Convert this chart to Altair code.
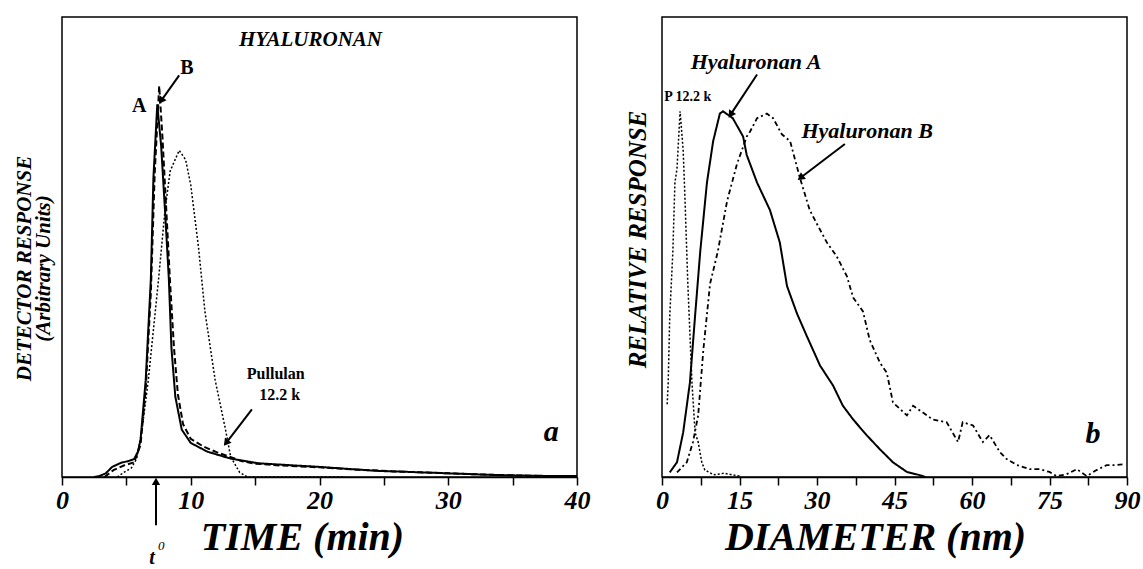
import math
import altair as alt
import pandas as pd

FONT = "Liberation Serif"

# ---------------- Panel a : elution profiles ----------------
a_A_t = [2.5, 2.9, 3.4, 3.9, 4.6, 5.2, 5.6, 5.9, 6.1, 6.5, 6.9, 7.1, 7.4, 7.7, 8.0, 8.3, 8.5, 8.8, 9.3,
         10.0, 11.3, 13.1, 15.2, 17.5, 20.0, 22.0, 24.7, 27.0, 30.0, 32.0, 33.7, 36.0, 38.4, 40.0]
a_A_h = [0.0, 0.2, 0.8, 2.2, 3.1, 3.5, 3.9, 5.5, 8.1, 21, 43, 65, 81, 72, 58, 43, 28, 17.5, 10.3,
         7.4, 5.5, 4.0, 3.0, 2.6, 2.2, 1.8, 1.3, 1.1, 0.8, 0.6, 0.45, 0.3, 0.2, 0.2]

a_B_t = [3.3, 4.0, 4.8, 5.6, 6.1, 6.5, 6.9, 7.2, 7.55, 7.8, 8.1, 8.4, 8.7, 9.0, 9.4, 10.0, 11.0, 12.0,
         13.0, 14.0, 15.0, 17.0, 20.0, 23.0, 26.0, 30.0, 34.0, 38.0, 40.0]
a_B_h = [0.0, 1.5, 2.5, 3.2, 7, 19, 40, 66, 85, 74, 58, 42, 28, 18, 11.5, 8.3, 6.6, 5.4,
         4.4, 3.4, 2.9, 2.5, 2.1, 1.6, 1.2, 0.8, 0.4, 0.2, 0.15]

a_P_t = [4.3, 4.8, 5.4, 5.8, 6.2, 6.7, 7.5, 8.0, 8.4, 9.1, 9.6, 10.0, 10.6, 11.1, 11.9, 12.7, 13.1,
         13.8, 14.4, 22.0]
a_P_h = [0.0, 1.0, 2.0, 4.0, 10, 21, 43, 58, 66.5, 71, 69, 63.5, 50, 36, 21, 10.3, 4.4,
         1.0, 0.0, 0.0]

# ---------------- Panel b : size distributions ----------------
b_P_d = [1.0, 1.2, 1.5, 2.1, 2.5, 2.9, 3.5, 4.1, 4.4, 5.0, 5.8, 6.4, 7.0, 7.7, 8.3, 10.0, 12.0, 15.0]
b_P_h = [15.8, 20.5, 35, 49, 64, 67, 79.5, 71, 62, 42, 20.5, 9.7, 7.6, 3.2, 1.5, 0.5, 0.8, 0.2]

b_A_d = [1.5, 2.9, 4.1, 5.4, 6.4, 7.4, 8.7, 9.9, 11.2, 11.8, 13.7, 15.7, 16.4, 18.4, 20.9, 22.8,
         24.2, 26.1, 28.0, 30.6, 33.1, 35.0, 37.0, 39.6, 42.2, 44.7, 47.4, 49.9, 51.0]
b_A_h = [1.0, 3.2, 9.7, 20.5, 35, 49, 64, 73, 79, 79.5, 78, 74, 70, 64, 58, 51,
         41.5, 35.6, 30.7, 24.2, 19.9, 15.5, 12.5, 9.1, 6.0, 3.2, 1.1, 0.4, 0.0]

b_B_d = [2.9, 4.8, 6.0, 7.0, 8.0, 9.3, 10.8, 12.6, 14.5, 16.4, 17.0, 18.4, 20.3, 21.5, 23.2, 24.8,
         26.7, 28.6, 30.0, 31.9, 33.8, 35.8, 37.0, 38.9, 40.2, 42.2, 43.5, 44.7, 47.4, 48.6, 50.5,
         52.4, 55.1, 57.3, 58.2, 60.2, 62.1, 63.4, 65.4, 66.7, 68.7, 71.2, 73.1, 75.0, 76.4, 78.3,
         80.3, 82.2, 84.1, 86.1, 88.0, 89.6]
b_B_h = [1.0, 3.2, 7.6, 13.4, 27.6, 42, 49, 60, 68, 74, 75, 78, 79, 78, 74.5, 73,
         65, 58, 55, 51, 48, 43.6, 39, 36, 29.8, 24.8, 22.7, 16.2, 13.4, 15.5, 14,
         12.5, 11.9, 7.6, 11.9, 11.2, 7.6, 9.1, 5.4, 3.9, 2.6, 1.7, 1.7, 1.1, 0.2, 0.6,
         1.7, 0.2, 1.5, 2.6, 2.6, 2.8]

# ---------------- Annotations ----------------
a_texts = ["HYALURONAN", "A", "B", "Pullulan", "12.2 k", "a", "t"]
a_text_x = [19.3, 6.0, 9.7, 16.6, 16.9, 38.0, 7.0]
a_text_y = [95.0, 80.7, 89.0, 22.3, 17.9, 9.8, -17.5]
a_text_size = [21, 20, 20, 16, 16, 30, 20]
a_text_style = ["italic", "normal", "normal", "normal", "normal", "italic", "italic"]

a_sup = ["0"]
a_sup_x = [7.7]
a_sup_y = [-15.0]

a_arrows_x1 = [9.1, 14.75, 7.3]
a_arrows_y1 = [87.3, 14.7, -10.5]
a_arrows_x2 = [7.75, 12.8, 7.3]
a_arrows_y2 = [82.0, 7.6, -1.2]

b_texts = ["Hyaluronan A", "Hyaluronan B", "P 12.2 k", "b"]
b_text_x = [18.2, 39.7, 5.0, 83.4]
b_text_y = [90.3, 75.3, 82.7, 9.3]
b_text_size = [22, 22, 14, 30]
b_text_style = ["italic", "italic", "normal", "italic"]

b_arrows_x1 = [18.4, 35.4]
b_arrows_y1 = [87.5, 72.4]
b_arrows_x2 = [13.4, 27.0]
b_arrows_y2 = [79.0, 65.2]

A_W, A_H = 515, 460
B_W, B_H = 465, 460


def series_df(xs, ys, name):
    d = pd.DataFrame({"x": xs, "y": ys, "s": name})
    d["idx"] = range(len(d))
    return d


def arrows_df(x1, y1, x2, y2, xmax, w, h):
    rows = []
    for p, q, r, s in zip(x1, y1, x2, y2):
        dx = (r - p) * w / xmax
        dy = -(s - q) * h / 100.0
        ang = math.degrees(math.atan2(dx, -dy)) % 360
        rows.append({"x": p, "y": q, "x2": r, "y2": s, "ang": ang})
    return pd.DataFrame(rows)


def panel(lines, texts_df, sup_df, arr_df, xmax, w, h, xtitle, ytitle, tickstep, labelstep,
          ytitle_size, ytitle_pad, title_x, title_y):
    xs = alt.Scale(domain=[0, xmax], nice=False, zero=False)
    ys = alt.Scale(domain=[0, 100], nice=False)
    vals = []
    v = 0.0
    while v <= xmax + 1e-9:
        vals.append(round(v, 2))
        v += tickstep
    xaxis = alt.Axis(values=vals, title=xtitle, grid=False,
                     labelExpr=f"datum.value % {labelstep} == 0 ? datum.label : ''",
                     tickSize=8, tickWidth=1.5, tickColor="black",
                     domainColor="black", domainWidth=1.5,
                     labelFont=FONT, labelFontSize=26, labelFontWeight="bold",
                     labelFontStyle="italic", labelColor="black", labelPadding=2,
                     labelFlush=False,
                     titleFont=FONT, titleFontSize=40, titleFontWeight="bold",
                     titleFontStyle="italic", titleColor="black", titlePadding=4,
                     titleX=title_x)
    yaxis = alt.Axis(title=ytitle, ticks=False, labels=False, domain=False, grid=False,
                     titleFont=FONT, titleFontSize=ytitle_size, titleFontWeight="bold",
                     titleFontStyle="italic", titleColor="black", titlePadding=ytitle_pad,
                     titleLineHeight=19, titleY=title_y)

    def X(f):
        return alt.X(f, scale=xs, axis=xaxis)

    def Y(f):
        return alt.Y(f, scale=ys, axis=yaxis)

    layers = []
    for df, dash, sw in lines:
        mk = alt.Chart(df).mark_line(color="black", strokeWidth=sw, strokeDash=dash,
                                     interpolate="linear")
        layers.append(mk.encode(x=X("x:Q"), y=Y("y:Q"), order="idx:Q"))
    for style in ["italic", "normal"]:
        sub = texts_df[texts_df.st == style]
        if len(sub):
            layers.append(alt.Chart(sub).mark_text(
                font=FONT, fontWeight="bold", fontStyle=style, color="black",
                align="center", baseline="middle").encode(
                x=X("x:Q"), y=Y("y:Q"), text="t:N",
                size=alt.Size("sz:Q", scale=None, legend=None)))
    if sup_df is not None:
        layers.append(alt.Chart(sup_df).mark_text(
            font=FONT, fontStyle="italic", fontSize=13, color="black").encode(
            x=X("x:Q"), y=Y("y:Q"), text="t:N"))
    layers.append(alt.Chart(arr_df).mark_rule(color="black", strokeWidth=2).encode(
        x=X("x:Q"), y=Y("y:Q"), x2="x2:Q", y2="y2:Q"))
    layers.append(alt.Chart(arr_df).mark_point(shape="triangle", filled=True, color="black",
                                               size=70, opacity=1).encode(
        x=X("x2:Q"), y=Y("y2:Q"),
        angle=alt.Angle("ang:Q", scale=None)))
    return alt.layer(*layers).properties(width=w, height=h)


a_text_df = pd.DataFrame({"t": a_texts, "x": a_text_x, "y": a_text_y,
                          "sz": a_text_size, "st": a_text_style})
b_text_df = pd.DataFrame({"t": b_texts, "x": b_text_x, "y": b_text_y,
                          "sz": b_text_size, "st": b_text_style})
a_sup_df = pd.DataFrame({"t": a_sup, "x": a_sup_x, "y": a_sup_y})

left = panel(
    [(series_df(a_P_t, a_P_h, "P"), [2, 2], 1.5),
     (series_df(a_B_t, a_B_h, "B"), [6, 3], 2),
     (series_df(a_A_t, a_A_h, "A"), [1, 0], 2)],
    a_text_df, a_sup_df,
    arrows_df(a_arrows_x1, a_arrows_y1, a_arrows_x2, a_arrows_y2, 40, A_W, A_H),
    40, A_W, A_H, "TIME (min)", ["DETECTOR RESPONSE", "(Arbitrary Units)"], 5, 10,
    21, 9, 240, 251)

right = panel(
    [(series_df(b_P_d, b_P_h, "P"), [2, 2], 1.5),
     (series_df(b_B_d, b_B_h, "B"), [5, 3, 2, 3], 1.8),
     (series_df(b_A_d, b_A_h, "A"), [1, 0], 2)],
    b_text_df, None,
    arrows_df(b_arrows_x1, b_arrows_y1, b_arrows_x2, b_arrows_y2, 90, B_W, B_H),
    90, B_W, B_H, "DIAMETER (nm)", "RELATIVE RESPONSE", 7.5, 15,
    25, 12, 213, 222)

chart = alt.hconcat(left, right, spacing=33).properties(
    padding={"left": 12, "top": 16, "right": 0, "bottom": 2},
    background="white"
).configure_view(stroke="black", strokeWidth=1.5).resolve_scale(x="independent")

chart.save("out.html", embed_options={"renderer": "svg", "actions": False})
